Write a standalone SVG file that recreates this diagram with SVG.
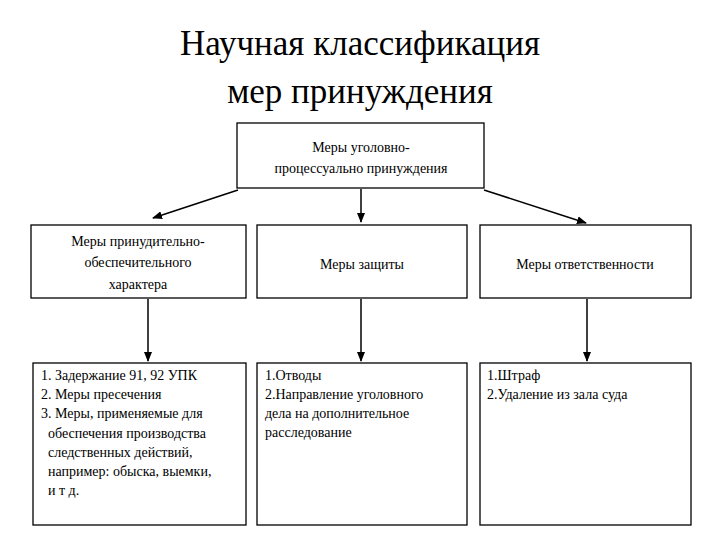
<svg xmlns="http://www.w3.org/2000/svg" width="720" height="540" viewBox="0 0 720 540">
<style>
text{fill:#000;font-family:"Liberation Serif","DejaVu Serif","Noto Serif",serif}
.t{font-size:35px;text-anchor:middle}
.b{font-size:14px}
.c{text-anchor:middle}
rect{fill:#fff;stroke:#000;stroke-width:1.3}
.e{stroke:#000;stroke-width:1.5;fill:none;marker-end:url(#a)}
</style>
<defs><marker id="a" markerWidth="10" markerHeight="8" refX="9" refY="4" orient="auto" markerUnits="userSpaceOnUse"><path d="M0,0L10,4L0,8z" fill="#000"/></marker></defs>
<rect x="0" y="0" width="720" height="540" style="stroke:none"/>
<text class="t" x="360" y="55">Научная классификация</text>
<text class="t" x="360" y="103">мер принуждения</text>
<g id="connectors">
<path class="e" d="M238,190L153,218"/>
<path class="e" d="M361,189L361,222"/>
<path class="e" d="M484,190L586,223"/>
<path class="e" d="M148,299L148,361"/>
<path class="e" d="M361,299L361,361"/>
<path class="e" d="M587,299L587,361"/>
</g>
<g id="root"><rect x="237" y="123" width="247" height="65"/>
<text class="b c" x="361" y="152">Меры уголовно-</text><text class="b c" x="361" y="173">процессуально принуждения</text></g>
<g id="n1"><rect x="31" y="225" width="215" height="73"/>
<text class="b c" x="138" y="246">Меры принудительно-</text><text class="b c" x="138" y="267">обеспечительного</text><text class="b c" x="138" y="289">характера</text></g>
<g id="n2"><rect x="257" y="225" width="210" height="73"/><text class="b c" x="362" y="269">Меры защиты</text></g>
<g id="n3"><rect x="480" y="225" width="211" height="73"/><text class="b c" x="585" y="269">Меры ответственности</text></g>
<g id="d1"><rect x="33" y="363" width="213" height="162"/>
<text class="b" x="41" y="380">1. Задержание 91, 92 УПК</text>
<text class="b" x="41" y="399">2. Меры пресечения</text>
<text class="b" x="41" y="418">3. Меры, применяемые для</text>
<text class="b" x="48" y="438">обеспечения производства</text>
<text class="b" x="48" y="457">следственных действий,</text>
<text class="b" x="48" y="476">например: обыска, выемки,</text>
<text class="b" x="48" y="495">и т д.</text></g>
<g id="d2"><rect x="257" y="363" width="210" height="162"/>
<text class="b" x="265" y="380">1.Отводы</text>
<text class="b" x="265" y="399">2.Направление уголовного</text>
<text class="b" x="265" y="418">дела на дополнительное</text>
<text class="b" x="265" y="437">расследование</text></g>
<g id="d3"><rect x="480" y="363" width="211" height="162"/>
<text class="b" x="487" y="380">1.Штраф</text>
<text class="b" x="487" y="399">2.Удаление из зала суда</text></g>
</svg>
